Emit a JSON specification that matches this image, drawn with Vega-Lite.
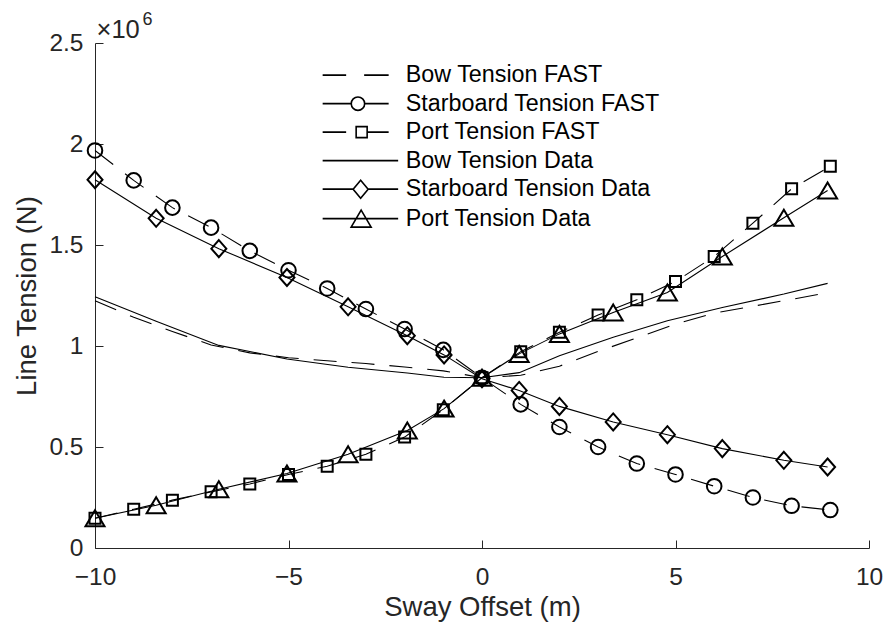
{
  "$schema": "https://vega.github.io/schema/vega-lite/v6.json",
  "width": 774,
  "height": 505,
  "autosize": {"type": "none"},
  "padding": {"left": 95, "top": 43, "right": 17, "bottom": 80},
  "background": "white",
  "config": {
    "view": {"stroke": null},
    "font": "Liberation Sans",
    "axis": {
      "grid": false,
      "domainColor": "#262626",
      "domainWidth": 1,
      "tickColor": "#262626",
      "tickWidth": 1,
      "tickSize": -8,
      "labelColor": "#262626",
      "labelFontSize": 24.5,
      "labelFlush": false,
      "labelOverlap": false,
      "titleColor": "#262626",
      "titleFontSize": 27.5,
      "titleFontWeight": "normal"
    }
  },
  "datasets": {
    "tension": [
      {"series": "Bow Tension FAST", "x": -10, "y": 1224000},
      {"series": "Bow Tension FAST", "x": -9, "y": 1142000},
      {"series": "Bow Tension FAST", "x": -8, "y": 1072000},
      {"series": "Bow Tension FAST", "x": -7, "y": 1005000},
      {"series": "Bow Tension FAST", "x": -6, "y": 966000},
      {"series": "Bow Tension FAST", "x": -5, "y": 942000},
      {"series": "Bow Tension FAST", "x": -4, "y": 927000},
      {"series": "Bow Tension FAST", "x": -3, "y": 913000},
      {"series": "Bow Tension FAST", "x": -2, "y": 896000},
      {"series": "Bow Tension FAST", "x": -1, "y": 877000},
      {"series": "Bow Tension FAST", "x": 0, "y": 843000},
      {"series": "Bow Tension FAST", "x": 1, "y": 855000},
      {"series": "Bow Tension FAST", "x": 2, "y": 900000},
      {"series": "Bow Tension FAST", "x": 3, "y": 973000},
      {"series": "Bow Tension FAST", "x": 4, "y": 1040000},
      {"series": "Bow Tension FAST", "x": 5, "y": 1108000},
      {"series": "Bow Tension FAST", "x": 6, "y": 1163000},
      {"series": "Bow Tension FAST", "x": 7, "y": 1197000},
      {"series": "Bow Tension FAST", "x": 8, "y": 1231000},
      {"series": "Bow Tension FAST", "x": 9, "y": 1266000},

      {"series": "Starboard Tension FAST", "x": -10, "y": 1968000},
      {"series": "Starboard Tension FAST", "x": -9, "y": 1820000},
      {"series": "Starboard Tension FAST", "x": -8, "y": 1685000},
      {"series": "Starboard Tension FAST", "x": -7, "y": 1586000},
      {"series": "Starboard Tension FAST", "x": -6, "y": 1471000},
      {"series": "Starboard Tension FAST", "x": -5, "y": 1375000},
      {"series": "Starboard Tension FAST", "x": -4, "y": 1285000},
      {"series": "Starboard Tension FAST", "x": -3, "y": 1183000},
      {"series": "Starboard Tension FAST", "x": -2, "y": 1084000},
      {"series": "Starboard Tension FAST", "x": -1, "y": 981000},
      {"series": "Starboard Tension FAST", "x": 0, "y": 843000},
      {"series": "Starboard Tension FAST", "x": 1, "y": 711000},
      {"series": "Starboard Tension FAST", "x": 2, "y": 599000},
      {"series": "Starboard Tension FAST", "x": 3, "y": 500000},
      {"series": "Starboard Tension FAST", "x": 4, "y": 418000},
      {"series": "Starboard Tension FAST", "x": 5, "y": 364000},
      {"series": "Starboard Tension FAST", "x": 6, "y": 306000},
      {"series": "Starboard Tension FAST", "x": 7, "y": 250000},
      {"series": "Starboard Tension FAST", "x": 8, "y": 209000},
      {"series": "Starboard Tension FAST", "x": 9, "y": 188000},

      {"series": "Port Tension FAST", "x": -10, "y": 147000},
      {"series": "Port Tension FAST", "x": -9, "y": 192000},
      {"series": "Port Tension FAST", "x": -8, "y": 237000},
      {"series": "Port Tension FAST", "x": -7, "y": 278000},
      {"series": "Port Tension FAST", "x": -6, "y": 317000},
      {"series": "Port Tension FAST", "x": -5, "y": 364000},
      {"series": "Port Tension FAST", "x": -4, "y": 405000},
      {"series": "Port Tension FAST", "x": -3, "y": 464000},
      {"series": "Port Tension FAST", "x": -2, "y": 549000},
      {"series": "Port Tension FAST", "x": -1, "y": 685000},
      {"series": "Port Tension FAST", "x": 0, "y": 843000},
      {"series": "Port Tension FAST", "x": 1, "y": 972000},
      {"series": "Port Tension FAST", "x": 2, "y": 1068000},
      {"series": "Port Tension FAST", "x": 3, "y": 1153000},
      {"series": "Port Tension FAST", "x": 4, "y": 1229000},
      {"series": "Port Tension FAST", "x": 5, "y": 1319000},
      {"series": "Port Tension FAST", "x": 6, "y": 1443000},
      {"series": "Port Tension FAST", "x": 7, "y": 1608000},
      {"series": "Port Tension FAST", "x": 8, "y": 1778000},
      {"series": "Port Tension FAST", "x": 9, "y": 1890000},

      {"series": "Bow Tension Data", "x": -10, "y": 1244000},
      {"series": "Bow Tension Data", "x": -8.42, "y": 1122000},
      {"series": "Bow Tension Data", "x": -6.8, "y": 1003000},
      {"series": "Bow Tension Data", "x": -5.04, "y": 936000},
      {"series": "Bow Tension Data", "x": -3.46, "y": 895000},
      {"series": "Bow Tension Data", "x": -1.93, "y": 866000},
      {"series": "Bow Tension Data", "x": -0.98, "y": 845000},
      {"series": "Bow Tension Data", "x": 0, "y": 843000},
      {"series": "Bow Tension Data", "x": 0.96, "y": 868000},
      {"series": "Bow Tension Data", "x": 2.0, "y": 952000},
      {"series": "Bow Tension Data", "x": 3.39, "y": 1043000},
      {"series": "Bow Tension Data", "x": 4.79, "y": 1125000},
      {"series": "Bow Tension Data", "x": 6.21, "y": 1191000},
      {"series": "Bow Tension Data", "x": 7.8, "y": 1257000},
      {"series": "Bow Tension Data", "x": 8.93, "y": 1310000},

      {"series": "Starboard Tension Data", "x": -10, "y": 1823000},
      {"series": "Starboard Tension Data", "x": -8.42, "y": 1632000},
      {"series": "Starboard Tension Data", "x": -6.8, "y": 1482000},
      {"series": "Starboard Tension Data", "x": -5.04, "y": 1339000},
      {"series": "Starboard Tension Data", "x": -3.46, "y": 1194000},
      {"series": "Starboard Tension Data", "x": -1.93, "y": 1051000},
      {"series": "Starboard Tension Data", "x": -0.98, "y": 956000},
      {"series": "Starboard Tension Data", "x": 0, "y": 838000},
      {"series": "Starboard Tension Data", "x": 0.96, "y": 780000},
      {"series": "Starboard Tension Data", "x": 2.0, "y": 701000},
      {"series": "Starboard Tension Data", "x": 3.39, "y": 624000},
      {"series": "Starboard Tension Data", "x": 4.79, "y": 561000},
      {"series": "Starboard Tension Data", "x": 6.21, "y": 492000},
      {"series": "Starboard Tension Data", "x": 7.8, "y": 434000},
      {"series": "Starboard Tension Data", "x": 8.93, "y": 401000},

      {"series": "Port Tension Data", "x": -10, "y": 147000},
      {"series": "Port Tension Data", "x": -8.42, "y": 212000},
      {"series": "Port Tension Data", "x": -6.8, "y": 291000},
      {"series": "Port Tension Data", "x": -5.04, "y": 369000},
      {"series": "Port Tension Data", "x": -3.46, "y": 464000},
      {"series": "Port Tension Data", "x": -1.93, "y": 582000},
      {"series": "Port Tension Data", "x": -0.98, "y": 690000},
      {"series": "Port Tension Data", "x": 0, "y": 843000},
      {"series": "Port Tension Data", "x": 0.96, "y": 961000},
      {"series": "Port Tension Data", "x": 2.0, "y": 1060000},
      {"series": "Port Tension Data", "x": 3.39, "y": 1166000},
      {"series": "Port Tension Data", "x": 4.79, "y": 1265000},
      {"series": "Port Tension Data", "x": 6.21, "y": 1443000},
      {"series": "Port Tension Data", "x": 7.8, "y": 1635000},
      {"series": "Port Tension Data", "x": 8.93, "y": 1770000}
    ]
  },
  "layer": [
    {
      "data": {"name": "tension"},
      "encoding": {
        "x": {
          "field": "x",
          "type": "quantitative",
          "scale": {"domain": [-10, 10], "nice": false, "zero": false},
          "axis": {
            "title": "Sway Offset (m)",
            "values": [-10, -5, 0, 5, 10],
            "format": "d",
            "labelPadding": 25,
            "titleBaseline": "alphabetic",
            "titleY": 67
          }
        },
        "y": {
          "field": "y",
          "type": "quantitative",
          "scale": {"domain": [0, 2500000], "nice": false, "zero": false},
          "axis": {
            "title": "Line Tension (N)",
            "values": [0, 500000, 1000000, 1500000, 2000000, 2500000],
            "labelExpr": "format(datum.value / 1000000, '~g')",
            "labelPadding": 20,
            "titleBaseline": "alphabetic",
            "titleX": -60,
            "titleY": 252.5
          }
        }
      },
      "layer": [
        {
          "transform": [{"filter": "indexof(datum.series, 'FAST') >= 0"}],
          "mark": {"type": "line", "color": "black", "strokeWidth": 1.1, "strokeDash": [23, 15]},
          "encoding": {"detail": {"field": "series"}}
        },
        {
          "transform": [{"filter": "indexof(datum.series, 'Data') >= 0"}],
          "mark": {"type": "line", "color": "black", "strokeWidth": 1.1},
          "encoding": {"detail": {"field": "series"}}
        },
        {
          "transform": [{"filter": "datum.series === 'Starboard Tension FAST'"}],
          "mark": {"type": "point", "filled": false, "color": "black", "opacity": 1, "strokeWidth": 2, "size": 4,
                   "shape": "M7.3,0A7.3,7.3 0 1,1 -7.3,0A7.3,7.3 0 1,1 7.3,0Z"}
        },
        {
          "transform": [{"filter": "datum.series === 'Port Tension FAST'"}],
          "mark": {"type": "point", "filled": false, "color": "black", "opacity": 1, "strokeWidth": 2, "size": 4,
                   "shape": "M-5.5,-5.5H5.5V5.5H-5.5Z"}
        },
        {
          "transform": [{"filter": "datum.series === 'Starboard Tension Data'"}],
          "mark": {"type": "point", "filled": false, "color": "black", "opacity": 1, "strokeWidth": 2, "size": 4,
                   "shape": "M0,-8.5L7.5,0L0,8.5L-7.5,0Z"}
        },
        {
          "transform": [{"filter": "datum.series === 'Port Tension Data'"}],
          "mark": {"type": "point", "filled": false, "color": "black", "opacity": 1, "strokeWidth": 2, "size": 4,
                   "shape": "M0,-8L9.5,8H-9.5Z"}
        },
        {
          "mark": {"type": "point", "filled": false, "color": "black", "opacity": 0, "size": 4},
          "encoding": {
            "shape": {
              "field": "series",
              "type": "nominal",
              "scale": {
                "domain": ["Bow Tension FAST", "Starboard Tension FAST", "Port Tension FAST", "Bow Tension Data", "Starboard Tension Data", "Port Tension Data"],
                "range": [
                  "M-38.5,0H-15M3,0H27.5",
                  "M-38.5,0H-10M3.5,0H27.5M3.5,0A6.7,6.7 0 1,1 -9.9,0A6.7,6.7 0 1,1 3.5,0Z",
                  "M-38.5,0H-15M6,0H27.5M-5,-5.5H6V5.5H-5Z",
                  "M-38.5,0H37",
                  "M-38.5,0H-8M7,0H37M-0.5,-9L7,0L-0.5,9L-8,0Z",
                  "M-38.5,0H37M0,-8.5L10,8.5H-10Z"
                ]
              },
              "legend": {
                "title": null,
                "orient": "none",
                "legendX": 254.5,
                "legendY": 20.5,
                "padding": 0,
                "symbolSize": 4,
                "symbolStrokeWidth": 1.6,
                "symbolStrokeColor": "black",
                "symbolFillColor": "transparent",
                "symbolOpacity": 1,
                "labelOffset": 33,
                "labelFontSize": 23.3,
                "labelColor": "black",
                "labelLimit": 400,
                "rowPadding": 4.5,
                "encode": {"symbols": {"update": {"opacity": {"value": 1}}}}
              }
            }
          }
        }
      ]
    },
    {
      "data": {"values": [{"label": "×10"}]},
      "mark": {"type": "text", "align": "left", "baseline": "alphabetic", "fontSize": 25.5, "color": "#262626", "dx": 1.5, "dy": -5.5},
      "encoding": {
        "x": {"datum": -10, "type": "quantitative"},
        "y": {"datum": 2500000, "type": "quantitative"},
        "text": {"field": "label"}
      }
    },
    {
      "data": {"values": [{"label": "6"}]},
      "mark": {"type": "text", "align": "left", "baseline": "alphabetic", "fontSize": 18, "color": "#262626", "dx": 47.5, "dy": -18},
      "encoding": {
        "x": {"datum": -10, "type": "quantitative"},
        "y": {"datum": 2500000, "type": "quantitative"},
        "text": {"field": "label"}
      }
    }
  ]
}
